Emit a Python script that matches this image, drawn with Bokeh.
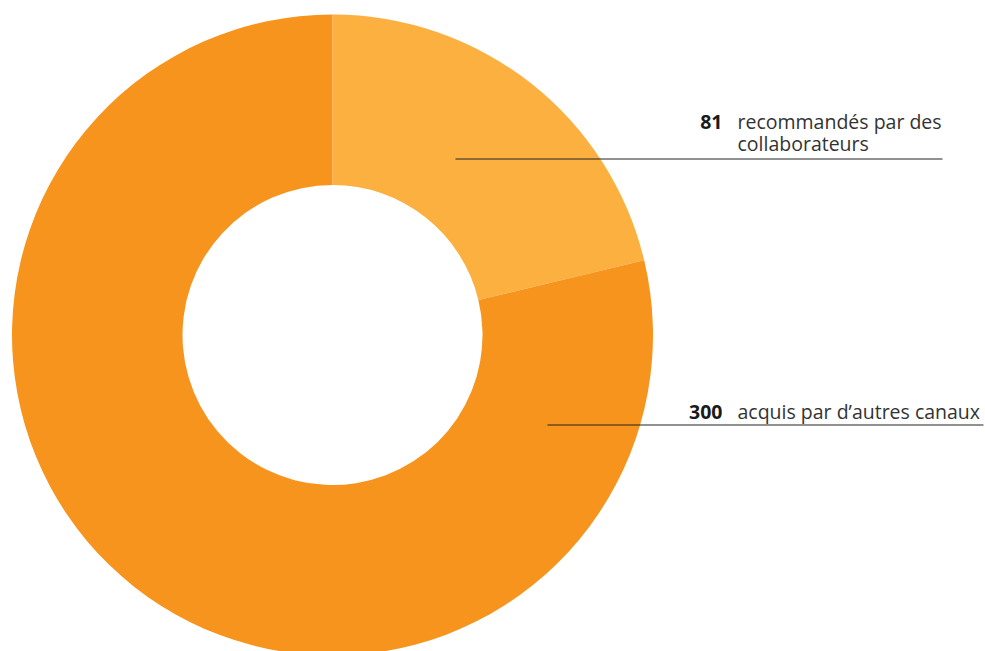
from bokeh.plotting import figure
from bokeh.models import Range1d
from bokeh.embed import file_html
from bokeh.resources import INLINE
from bokeh.core.properties import value
import math

categories = ["recommandés par des collaborateurs", "acquis par d'autres canaux"]
counts = [81, 300]
colors = ["#FBB040", "#F7941E"]
label_numbers = ["81", "300"]
label_lines = [["recommandés par des", "collaborateurs"], ["acquis par d\u2019autres canaux"]]

W, H = 985, 651
p = figure(width=W, height=H, output_backend="svg", toolbar_location=None,
           x_range=Range1d(0, W), y_range=Range1d(651 - H, 651),
           min_border=0)
p.axis.visible = False
p.grid.visible = False
p.outline_line_color = None
p.background_fill_color = "white"
p.border_fill_color = "white"

cx, cy = 332, 651 - 334.5
r_out, r_in = 320.5, 150
total = sum(counts)
start = math.pi / 2
starts, ends = [], []
for c in counts:
    end = start - 2 * math.pi * c / total
    starts.append(start)
    ends.append(end)
    start = end

p.annular_wedge(x=[cx] * len(counts), y=[cy] * len(counts), inner_radius=r_in, outer_radius=r_out,
                start_angle=starts, end_angle=ends, direction="clock",
                fill_color=colors, line_color=None)

font = value("Open Sans")
fs = "19.5px"
dy = 7
# label 1
p.line(x=[455, 942], y=[651 - 158.5, 651 - 158.5], line_color="#222222", line_width=1)
p.text(x=[722], y=[651 - 128 + dy], text=[label_numbers[0]], text_font=font, text_font_style="bold",
       text_font_size=fs, text_align="right", text_baseline="alphabetic", text_color="#1a1a1a")
p.text(x=[737, 737], y=[651 - 128 + dy, 651 - 150 + dy], text=label_lines[0], text_font=font,
       text_font_size=fs, text_align="left", text_baseline="alphabetic", text_color="#333333")
# label 2
p.line(x=[547, 983], y=[651 - 424.5, 651 - 424.5], line_color="#222222", line_width=1)
p.text(x=[722], y=[651 - 418 + dy], text=[label_numbers[1]], text_font=font, text_font_style="bold",
       text_font_size=fs, text_align="right", text_baseline="alphabetic", text_color="#1a1a1a")
p.text(x=[737], y=[651 - 418 + dy], text=label_lines[1], text_font=font,
       text_font_size=fs, text_align="left", text_baseline="alphabetic", text_color="#333333")

open("out.html", "w").write(file_html(p, INLINE))
